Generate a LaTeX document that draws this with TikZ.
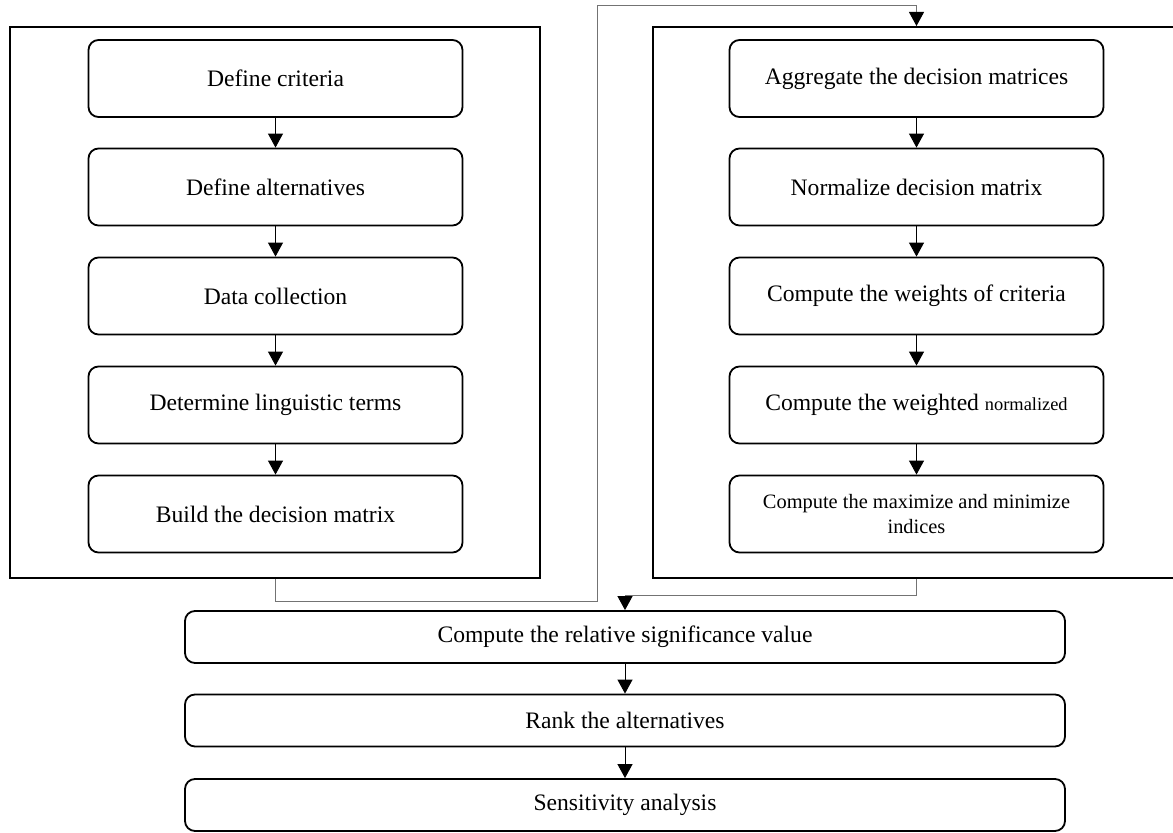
\documentclass[tikz,border=0pt]{standalone}
\usepackage{fontspec}
\setmainfont{Liberation Serif}
\usetikzlibrary{arrows.meta}
\begin{document}
\begin{tikzpicture}[x=0.5pt,y=-0.5pt,
      stepbox/.style={draw,line width=0.9pt,rounded corners=5pt,
        minimum width=187pt,minimum height=38.5pt,inner sep=0pt,
        align=center,font=\fontsize{11.8}{13.5}\selectfont},
      widebox/.style={stepbox,minimum width=440pt,minimum height=26pt},
      framebox/.style={draw,line width=1pt,inner sep=0pt},
      flow/.style={-{Triangle[width=7.5pt,length=7pt,color=black,fill=black]},line width=0.5pt},
      link/.style={flow,draw=black!55}]
      \clip (0,0) rectangle (1173,833);
      \node[framebox,minimum width=265pt,minimum height=275.5pt] (left) at (275,302.5) {};
      \node[framebox,minimum width=263.5pt,minimum height=275.5pt] (right) at (916.5,302.5) {};
      \node[stepbox] (crit) at (275.5,78.5) {Define criteria};
      \node[stepbox] (alt) at (275.5,187) {Define alternatives};
      \node[stepbox] (data) at (275.5,296) {Data collection};
      \node[stepbox] (ling) at (275.5,405) {Determine linguistic terms};
      \node[stepbox] (build) at (275.5,514) {Build the decision matrix};
      \node[stepbox] (aggr) at (916.5,78.5) {Aggregate the decision matrices};
      \node[stepbox] (norm) at (916.5,187) {Normalize decision matrix};
      \node[stepbox] (wts) at (916.5,296) {Compute the weights of criteria};
      \node[stepbox] (wnorm) at (916.5,405) {Compute the weighted {\fontsize{9.2}{10}\selectfont normalized}};
      \node[stepbox,font=\fontsize{10.2}{12.5}\selectfont] (maxmin) at (916.5,514) {Compute the maximize and minimize\\indices};
      \node[widebox] (sig) at (625,637) {Compute the relative significance value};
      \node[widebox] (rank) at (625,720.5) {Rank the alternatives};
      \node[widebox] (sens) at (625,805) {Sensitivity analysis};
      \draw[flow] (crit) -- (alt);
      \draw[flow] (alt) -- (data);
      \draw[flow] (data) -- (ling);
      \draw[flow] (ling) -- (build);
      \draw[flow] (aggr) -- (norm);
      \draw[flow] (norm) -- (wts);
      \draw[flow] (wts) -- (wnorm);
      \draw[flow] (wnorm) -- (maxmin);
      \draw[flow] (sig) -- (rank);
      \draw[flow] (rank) -- (sens);
      \draw[link] (left.south) |- (597,602) |- (right.north |- 0,6) -- (right.north);
      \draw[link] (right.south) -- ++(0,17) -| (sig.north);
\end{tikzpicture}
\end{document}
